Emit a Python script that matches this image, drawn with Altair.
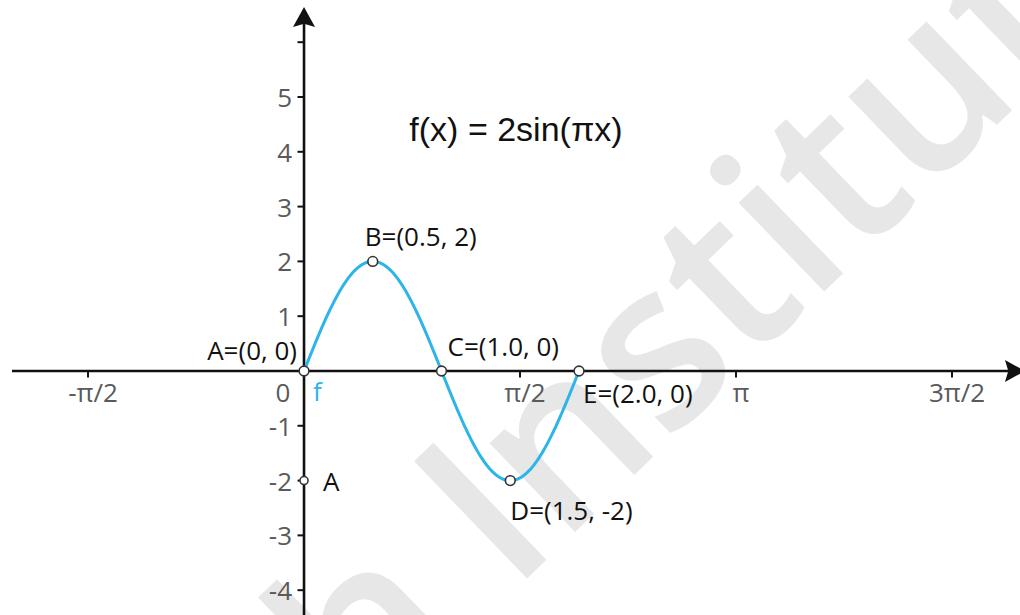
import math

import altair as alt
import pandas as pd

# ---- data -------------------------------------------------------------
# f(x) = AMPLITUDE * sin(pi * x), drawn over one full period
AMPLITUDE = 2
X_START, X_END = 0.0, 2.0

point_names = ["A", "B", "C", "D", "E"]
point_x = [0.0, 0.5, 1.0, 1.5, 2.0]
point_y = [0, 2, 0, -2, 0]
point_labels = ["A=(0, 0)", "B=(0.5, 2)", "C=(1.0, 0)", "D=(1.5, -2)", "E=(2.0, 0)"]

# free point sitting on the y-axis
axis_point_x = [0.0]
axis_point_y = [-2]
axis_point_label = ["A"]

x_tick_values = [-math.pi / 2, math.pi / 2, math.pi, 3 * math.pi / 2]
x_tick_labels = ["-π/2", "π/2", "π", "3π/2"]
y_tick_values = [-4, -3, -2, -1, 1, 2, 3, 4, 5, 6]
y_label_values = [-4, -3, -2, -1, 1, 2, 3, 4, 5]
y_label_text = ["-4", "-3", "-2", "-1", "1", "2", "3", "4", "5"]

TITLE = "f(x) = 2sin(πx)"
WATERMARK = "h Institute"

# ---- layout -----------------------------------------------------------
W, H = 1020, 615
X_SCALE = alt.Scale(domain=[-2.211, 5.207], nice=False, zero=False)
Y_SCALE = alt.Scale(domain=[-4.453, 6.770], nice=False, zero=False)

INK = "#111111"
TICK_GREY = "#5a5a5a"
CURVE = "#2db4ea"
LABEL_FONT = "Open Sans"
LABEL_SIZE = 26


def X(field):
    return alt.X(field, scale=X_SCALE, axis=None)


def Y(field):
    return alt.Y(field, scale=Y_SCALE, axis=None)


X0 = alt.XDatum(0, scale=X_SCALE, axis=None)
Y0 = alt.YDatum(0, scale=Y_SCALE, axis=None)
one_row = pd.DataFrame({"k": [0]})

# faint diagonal watermark behind everything
watermark = alt.Chart(pd.DataFrame({"t": [WATERMARK]})).mark_text(
    angle=316, fontSize=228, font=LABEL_FONT, fontWeight=600,
    color="#e7e7e7", align="left", baseline="alphabetic",
).encode(x=alt.value(365), y=alt.value(735), text="t:N")

# axis lines with arrow heads
x_axis = alt.Chart(one_row).mark_rule(color=INK, strokeWidth=2.6).encode(
    y=Y0, x=alt.value(12), x2=alt.value(1012))
y_axis = alt.Chart(one_row).mark_rule(color=INK, strokeWidth=2.6).encode(
    x=X0, y=alt.value(20), y2=alt.value(H))

arrow_up = alt.Chart(one_row).mark_point(
    shape="M0,-1 L1,0.82 L0,0.52 L-1,0.82 Z", filled=True, color=INK,
    size=484, opacity=1, strokeWidth=0,
).encode(x=X0, y=alt.value(18))
arrow_right = alt.Chart(one_row).mark_point(
    shape="M1,0 L-0.82,1 L-0.52,0 L-0.82,-1 Z", filled=True, color=INK,
    size=484, opacity=1, strokeWidth=0,
).encode(x=alt.value(1014), y=Y0)

# tick marks
y_ticks = alt.Chart(pd.DataFrame({"v": y_tick_values})).mark_tick(
    orient="horizontal", size=7, thickness=2, xOffset=-3, color=INK, opacity=1,
).encode(x=X0, y=Y("v:Q"))
x_ticks = alt.Chart(pd.DataFrame({"v": x_tick_values})).mark_tick(
    orient="vertical", size=7, thickness=2, yOffset=3, color=INK, opacity=1,
).encode(x=X("v:Q"), y=Y0)

# tick labels
y_labels = alt.Chart(pd.DataFrame({"v": y_label_values, "t": y_label_text})).mark_text(
    align="right", baseline="middle", dx=-12, dy=2, fontSize=LABEL_SIZE,
    font=LABEL_FONT, color=TICK_GREY,
).encode(x=X0, y=Y("v:Q"), text="t:N")
x_labels = alt.Chart(pd.DataFrame({"v": x_tick_values, "t": x_tick_labels})).mark_text(
    align="center", baseline="middle", dx=5, dy=23, fontSize=LABEL_SIZE,
    font=LABEL_FONT, color=TICK_GREY,
).encode(x=X("v:Q"), y=Y0, text="t:N")
origin_label = alt.Chart(pd.DataFrame({"t": ["0"]})).mark_text(
    align="center", baseline="middle", dx=-21, dy=23, fontSize=LABEL_SIZE,
    font=LABEL_FONT, color=TICK_GREY,
).encode(x=X0, y=Y0, text="t:N")

# the graph of f
curve = alt.Chart(alt.sequence(X_START, X_END + 0.005, 0.01, as_="x")).transform_calculate(
    y=f"{AMPLITUDE} * sin(PI * datum.x)"
).mark_line(color=CURVE, strokeWidth=3).encode(x=X("x:Q"), y=Y("y:Q"))

# hollow point markers
pts = pd.DataFrame({"name": point_names, "x": point_x, "y": point_y, "label": point_labels})
points = alt.Chart(pts).mark_point(
    shape="circle", filled=True, color="white", stroke="#333333",
    strokeWidth=1.6, size=95, opacity=1,
).encode(x=X("x:Q"), y=Y("y:Q"))

axis_pts = pd.DataFrame({"x": axis_point_x, "y": axis_point_y, "label": axis_point_label})
axis_point = alt.Chart(axis_pts).mark_point(
    shape="circle", filled=True, color="white", stroke="#333333",
    strokeWidth=1.6, size=65, opacity=1,
).encode(x=X("x:Q"), y=Y("y:Q"))

# where each point's caption sits relative to its marker
label_place = {
    "A": dict(align="right", dx=-7, dy=-19),
    "B": dict(align="left", dx=-8, dy=-23),
    "C": dict(align="left", dx=6, dy=-23),
    "D": dict(align="left", dx=0, dy=31),
    "E": dict(align="left", dx=4, dy=24),
}
point_captions = [
    alt.Chart(pts).transform_filter(alt.datum.name == n).mark_text(
        baseline="middle", fontSize=LABEL_SIZE, font=LABEL_FONT, color=INK, **label_place[n]
    ).encode(x=X("x:Q"), y=Y("y:Q"), text="label:N")
    for n in point_names
]

axis_caption = alt.Chart(axis_pts).mark_text(
    align="left", baseline="middle", dx=19, dy=2, fontSize=LABEL_SIZE,
    font=LABEL_FONT, color=INK,
).encode(x=X("x:Q"), y=Y("y:Q"), text="label:N")

f_caption = alt.Chart(pd.DataFrame({"t": ["f"]})).mark_text(
    align="left", baseline="middle", dx=9, dy=22, fontSize=LABEL_SIZE,
    font=LABEL_FONT, color=CURVE,
).encode(x=X0, y=Y0, text="t:N")

title = alt.Chart(pd.DataFrame({"t": [TITLE]})).mark_text(
    align="center", baseline="middle", fontSize=34, font="Liberation Sans", color=INK,
).encode(x=alt.value(516), y=alt.value(131), text="t:N")

chart = alt.layer(
    watermark, x_axis, y_axis, arrow_up, arrow_right, y_ticks, x_ticks,
    y_labels, x_labels, origin_label, curve, points, axis_point,
    *point_captions, axis_caption, f_caption, title,
).properties(
    width=W, height=H, padding=0, autosize="none", background="white",
).configure_view(stroke=None)

chart.save("out.html", embed_options={"renderer": "svg", "actions": False})
